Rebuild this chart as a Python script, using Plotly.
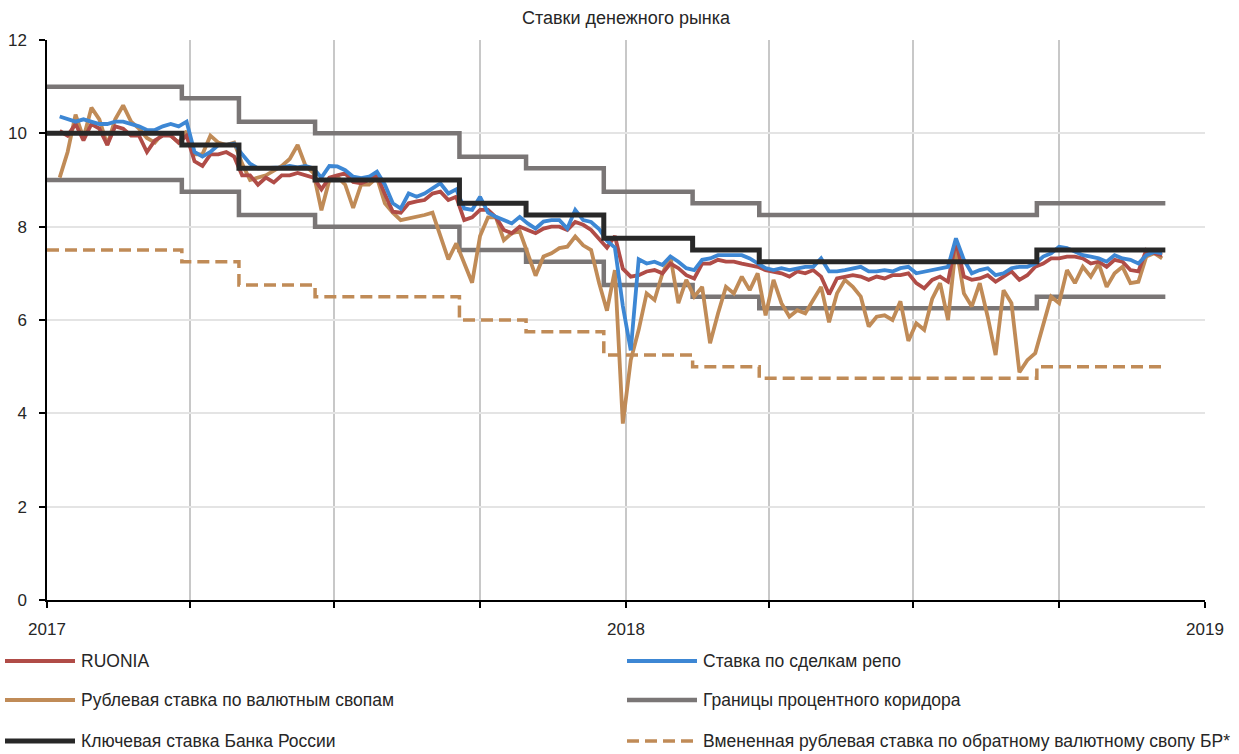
import plotly.graph_objects as go
import pandas as pd

# ---------------- data ----------------
policy_dates = ["2017-01-01", "2017-03-27", "2017-05-02", "2017-06-19", "2017-09-18",
                "2017-10-30", "2017-12-18", "2018-02-12", "2018-03-26", "2018-09-17",
                "2018-12-07"]
key_rate = [10.0, 9.75, 9.25, 9.0, 8.5, 8.25, 7.75, 7.5, 7.25, 7.5, 7.5]
corridor_upper = [11.0, 10.75, 10.25, 10.0, 9.5, 9.25, 8.75, 8.5, 8.25, 8.5, 8.5]
corridor_lower = [9.0, 8.75, 8.25, 8.0, 7.5, 7.25, 6.75, 6.5, 6.25, 6.5, 6.5]
implied_swap = [7.5, 7.25, 6.75, 6.5, 6.0, 5.75, 5.25, 5.0, 4.75, 5.0, 5.0]

market_dates = pd.date_range("2017-01-09", periods=140, freq="5D")

ruonia = [
    10.05, 9.95, 10.2, 9.85, 10.2, 10.1, 9.75, 10.15, 10.1, 9.95,
    9.95, 9.6, 9.85, 9.95, 9.95, 9.8, 9.95, 9.4, 9.3, 9.55,
    9.55, 9.6, 9.5, 9.1, 9.1, 8.9, 9.05, 8.95, 9.1, 9.1,
    9.15, 9.1, 9.05, 8.8, 9.05, 9.1, 9.14, 8.96, 8.93, 9.0,
    9.1, 8.7, 8.32, 8.3, 8.5, 8.54, 8.57, 8.71, 8.75, 8.57,
    8.64, 8.14, 8.2, 8.36, 8.36, 8.2, 7.93, 7.86, 8.0, 7.93,
    7.86, 7.96, 8.0, 8.0, 7.93, 8.1, 8.04, 7.93, 7.75, 7.55,
    7.8, 7.1, 6.93, 6.96, 7.04, 7.07, 7.0, 7.21, 7.11, 6.96,
    6.89, 7.21, 7.21, 7.29, 7.25, 7.25, 7.21, 7.18, 7.14, 7.07,
    7.04, 7.0, 6.93, 7.04, 7.0, 7.07, 6.93, 6.55, 6.89, 6.93,
    6.96, 6.93, 6.86, 6.93, 6.89, 6.96, 6.96, 7.0, 6.79, 6.68,
    6.86, 6.93, 6.82, 7.7, 6.93, 6.86, 6.89, 6.96, 6.82, 6.93,
    7.04, 6.86, 6.96, 7.14, 7.21, 7.32, 7.32, 7.36, 7.36, 7.32,
    7.21, 7.25, 7.14, 7.29, 7.25, 7.07, 7.04, 7.5, 7.43, 7.39,
]

repo = [
    10.36, 10.3, 10.25, 10.3, 10.25, 10.2, 10.2, 10.25, 10.25, 10.2,
    10.15, 10.07, 10.07, 10.15, 10.2, 10.15, 10.25, 9.6, 9.5, 9.6,
    9.75, 9.75, 9.78, 9.55, 9.35, 9.25, 9.25, 9.27, 9.27, 9.3,
    9.27, 9.3, 9.25, 9.05, 9.3, 9.29, 9.21, 9.07, 9.04, 9.07,
    9.18, 8.9, 8.5, 8.39, 8.71, 8.64, 8.71, 8.82, 8.93, 8.71,
    8.8, 8.39, 8.36, 8.64, 8.3, 8.21, 8.14, 8.07, 8.21, 8.07,
    7.96, 8.11, 8.14, 8.14, 7.96, 8.36, 8.14, 8.1, 7.95, 7.7,
    7.55, 6.3, 5.35, 7.3, 7.21, 7.25, 7.18, 7.36, 7.25, 7.11,
    7.07, 7.29, 7.32, 7.39, 7.39, 7.39, 7.39, 7.32, 7.21, 7.11,
    7.07, 7.11, 7.07, 7.11, 7.14, 7.14, 7.32, 7.04, 7.04, 7.07,
    7.11, 7.14, 7.04, 7.04, 7.07, 7.04, 7.11, 7.14, 7.0, 7.04,
    7.07, 7.11, 7.14, 7.75, 7.29, 7.0, 7.07, 7.11, 6.96, 7.0,
    7.11, 7.14, 7.14, 7.21, 7.36, 7.43, 7.57, 7.54, 7.46, 7.39,
    7.36, 7.32, 7.25, 7.39, 7.32, 7.29, 7.21, 7.39, 7.46, 7.43,
]

fx_swap = [
    9.05, 9.6, 10.4, 9.9, 10.55, 10.3, 9.75, 10.3, 10.6, 10.25,
    10.1, 9.9, 9.8, 10.0, 9.95, 9.8, 10.05, 9.55, 9.55, 9.95,
    9.8, 9.75, 9.8, 9.35, 9.0, 9.05, 9.1, 9.2, 9.3, 9.45,
    9.75, 9.3, 9.15, 8.35, 9.0, 9.07, 8.9, 8.4, 8.9, 8.9,
    9.05, 8.5, 8.3, 8.14, 8.17, 8.2, 8.25, 8.3, 7.8, 7.3,
    7.64, 7.2, 6.8, 7.8, 8.2, 8.2, 7.71, 7.86, 7.9, 7.43,
    6.95, 7.36, 7.43, 7.54, 7.57, 7.79, 7.6, 7.5, 6.8, 6.2,
    7.07, 3.78, 5.14, 5.79, 6.57, 6.43, 7.0, 7.36, 6.36, 6.86,
    6.5, 6.71, 5.5, 6.14, 6.71, 6.57, 6.93, 6.64, 7.0, 6.1,
    6.86, 6.36, 6.07, 6.21, 6.14, 6.43, 6.71, 5.95, 6.57, 6.86,
    6.71, 6.5, 5.86, 6.07, 6.1, 6.0, 6.4, 5.55, 5.93, 5.79,
    6.45, 6.79, 6.0, 7.6, 6.57, 6.29, 6.79, 6.07, 5.25, 6.64,
    6.36, 4.88, 5.14, 5.29, 5.86, 6.5, 6.36, 7.07, 6.79, 7.14,
    6.93, 7.21, 6.71, 7.0, 7.14, 6.79, 6.82, 7.36, 7.43, 7.32,
]

quarter_ticks = ["2017-01-01", "2017-04-01", "2017-07-01", "2017-10-01", "2018-01-01",
                 "2018-04-01", "2018-07-01", "2018-10-01", "2019-01-01"]
quarter_labels = ["2017", "", "", "", "2018", "", "", "", "2019"]
y_ticks = [0, 2, 4, 6, 8, 10, 12]

title_text = "Ставки денежного рынка"
names = {
    "ruonia": "RUONIA",
    "repo": "Ставка по сделкам репо",
    "swap": "Рублевая ставка по валютным свопам",
    "corr": "Границы процентного коридора",
    "key": "Ключевая ставка Банка России",
    "impl": "Вмененная рублевая ставка по обратному валютному свопу БР*",
}

# ---------------- style ----------------
C_RUONIA = "#B04C47"
C_REPO = "#3D87D4"
C_SWAP = "#C08B57"
C_CORR = "#7A7676"
C_KEY = "#282828"
FONT = "Liberation Sans, Arial, sans-serif"
TXT = "#262626"

W, H = 1239, 754
ML, MR, MT, MB = 47, 34, 40, 154
PW, PH = W - ML - MR, H - MT - MB

fig = go.Figure()

# corridor (upper + lower in one trace)
corr_x = policy_dates + [None] + policy_dates
corr_y = corridor_upper + [None] + corridor_lower
fig.add_trace(go.Scatter(x=corr_x, y=corr_y, mode="lines", line_shape="hv",
                         line=dict(color=C_CORR, width=4.5), name=names["corr"],
                         connectgaps=False, showlegend=False))
fig.add_trace(go.Scatter(x=policy_dates, y=implied_swap, mode="lines", line_shape="hv",
                         line=dict(color=C_SWAP, width=3.5, dash="12px,6px"),
                         name=names["impl"], showlegend=False))
fig.add_trace(go.Scatter(x=market_dates, y=fx_swap, mode="lines",
                         line=dict(color=C_SWAP, width=3.8), name=names["swap"],
                         showlegend=False))
fig.add_trace(go.Scatter(x=market_dates, y=ruonia, mode="lines",
                         line=dict(color=C_RUONIA, width=3.8), name=names["ruonia"],
                         showlegend=False))
fig.add_trace(go.Scatter(x=market_dates, y=repo, mode="lines",
                         line=dict(color=C_REPO, width=3.8), name=names["repo"],
                         showlegend=False))
fig.add_trace(go.Scatter(x=policy_dates, y=key_rate, mode="lines", line_shape="hv",
                         line=dict(color=C_KEY, width=5), name=names["key"],
                         showlegend=False))

# ---------------- manual legend (2 columns x 3 rows) ----------------
def px_x(p):
    return (p - ML) / PW

def px_y(p):
    return (H - MB - p) / PH

legend_items = [
    (names["ruonia"], C_RUONIA, 3.8, "solid", 5, 661),
    (names["repo"], C_REPO, 3.8, "solid", 627, 661),
    (names["swap"], C_SWAP, 3.8, "solid", 5, 700),
    (names["corr"], C_CORR, 4.5, "solid", 627, 700),
    (names["key"], C_KEY, 5, "solid", 5, 741),
    (names["impl"], C_SWAP, 3.5, "12px,6px", 627, 741),
]
shapes = []
annotations = []
for text, color, width, dash, x0, yy in legend_items:
    shapes.append(dict(type="line", xref="paper", yref="paper",
                       x0=px_x(x0), x1=px_x(x0 + 70), y0=px_y(yy), y1=px_y(yy),
                       line=dict(color=color, width=width, dash=dash)))
    annotations.append(dict(xref="paper", yref="paper", x=px_x(x0 + 74), y=px_y(yy),
                            text=text, showarrow=False, xanchor="left", yanchor="middle",
                            font=dict(family=FONT, size=17.5, color=TXT)))

fig.update_layout(
    width=W, height=H, autosize=False,
    margin=dict(l=ML, r=MR, t=MT, b=MB, pad=0),
    paper_bgcolor="white", plot_bgcolor="white",
    font=dict(family=FONT, size=17, color=TXT),
    title=dict(text=title_text, x=0.5, xref="paper", xanchor="center",
               y=1 - 18 / H, yref="container", yanchor="middle",
               font=dict(family=FONT, size=18, color=TXT)),
    showlegend=False,
    shapes=shapes,
    annotations=annotations,
    xaxis=dict(type="date", range=["2017-01-01", "2019-01-01"],
               tickmode="array", tickvals=quarter_ticks, ticktext=quarter_labels,
               showgrid=True, gridcolor="#C8C8C8", gridwidth=2,
               showline=True, linecolor="black", linewidth=2,
               ticks="outside", ticklen=6, tickwidth=1.5, tickcolor="black",
               ticklabelstandoff=7, zeroline=False, automargin=False,
               tickfont=dict(family=FONT, size=17, color=TXT)),
    yaxis=dict(range=[0, 12], tickmode="array", tickvals=y_ticks,
               showgrid=True, gridcolor="#E4E4E4", gridwidth=2,
               showline=True, linecolor="black", linewidth=1.5,
               ticks="outside", ticklen=6, tickwidth=1.5, tickcolor="black",
               ticklabelstandoff=9, zeroline=False, automargin=False,
               tickfont=dict(family=FONT, size=17, color=TXT)),
)

fig.write_html("out.html", include_plotlyjs=True, full_html=True,
               default_width=f"{W}px", default_height=f"{H}px",
               config={"displayModeBar": False},
               post_script="document.body.style.margin='0';")
